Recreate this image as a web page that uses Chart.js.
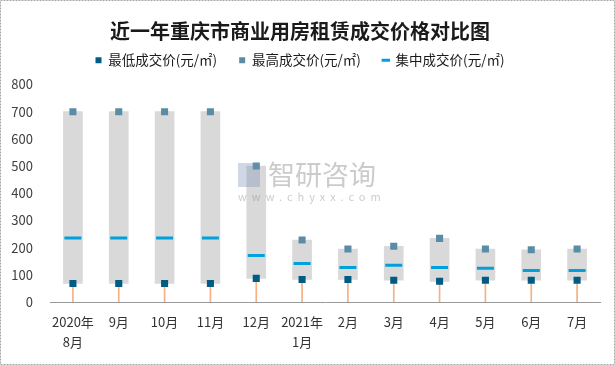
<!DOCTYPE html>
<html>
<head>
<meta charset="utf-8">
<script src="https://cdn.jsdelivr.net/npm/chart.js@4/dist/chart.umd.min.js"></script>
<style>
    body { margin: 0; background: #fff; }
    #wrap { width: 615px; height: 365px; }
</style>
</head>
<body>
<div id="wrap"><canvas id="myChart" width="615" height="365"></canvas></div>
<script>
// chart data
const months = [['2020年', '8月'], '9月', '10月', '11月', '12月', ['2021年', '1月'], '2月', '3月', '4月', '5月', '6月', '7月']
const lowPrice = [68, 68, 68, 68, 87, 83, 83, 80, 76, 80, 80, 80]
const highPrice = [700, 700, 700, 700, 500, 228, 195, 205, 234, 195, 192, 195]
const midPrice = [235, 235, 235, 235, 171, 142, 127, 135, 127, 124, 116, 116]
const yTicks = [0, 100, 200, 300, 400, 500, 600, 700, 800]

const cjk = '"Noto Sans CJK SC", "Noto Sans", sans-serif'

// frame + watermark
const framePlugin = {
    id: 'frame',
    beforeDraw: (chart) => {
        const { ctx } = chart
        ctx.save()
        ctx.fillStyle = '#ffffff'
        ctx.fillRect(0, 0, chart.width, chart.height)
        ctx.restore()
    },
    afterDatasetsDraw: (chart) => {
        const { ctx } = chart
        ctx.save()
        ctx.fillStyle = 'rgba(140, 140, 140, 0.45)'
        ctx.font = '27px ' + cjk
        ctx.textBaseline = 'middle'
        ctx.fillText('智研咨询', 268, 175)
        ctx.font = '11px ' + cjk
        ctx.letterSpacing = '5px'
        ctx.fillText('www.chyxx.com', 238, 197)
        ctx.fillStyle = 'rgba(120, 140, 180, 0.35)'
        ctx.fillRect(238, 163, 22, 24)
        ctx.restore()
    },
    afterDraw: (chart) => {
        const { ctx } = chart
        ctx.save()
        ctx.strokeStyle = '#a6a6a6'
        ctx.setLineDash([2, 1])
        ctx.lineWidth = 1
        ctx.strokeRect(0.5, 0.5, chart.width - 1, chart.height - 1)
        ctx.restore()
    }
}

const ctx = document.getElementById('myChart')
new Chart(ctx, {
    type: 'bar',
    data: {
        labels: months,
        datasets: [{
            type: 'line',
            label: '最低成交价(元/㎡)',
            data: lowPrice,
            showLine: false,
            pointStyle: 'rect',
            pointRadius: 5,
            pointBackgroundColor: '#005C83',
            pointBorderColor: '#005C83',
            pointBorderWidth: 0,
            backgroundColor: '#005C83',
            borderColor: '#005C83'
        },
        {
            type: 'line',
            label: '最高成交价(元/㎡)',
            data: highPrice,
            showLine: false,
            pointStyle: 'rect',
            pointRadius: 5,
            pointBackgroundColor: '#5A8CA6',
            pointBorderColor: '#5A8CA6',
            pointBorderWidth: 0,
            backgroundColor: '#5A8CA6',
            borderColor: '#5A8CA6'
        },
        {
            type: 'line',
            label: '集中成交价(元/㎡)',
            data: midPrice,
            showLine: false,
            pointStyle: 'line',
            pointRadius: 8.5,
            pointBorderWidth: 3,
            pointBorderColor: '#00A0DC',
            backgroundColor: '#00A0DC',
            borderColor: '#00A0DC',
            borderWidth: 3
        },
        {
            label: 'range',
            data: lowPrice.map((v, i) => [v, highPrice[i]]),
            backgroundColor: '#D9D9D9',
            barThickness: 19,
            grouped: false
        },
        {
            label: 'drop',
            data: lowPrice.map(v => [0, v]),
            backgroundColor: '#F4B183',
            barThickness: 1,
            grouped: false
        }]
    },
    options: {
        responsive: false,
        animation: false,
        layout: { padding: { left: 0, right: 15, bottom: 0 } },
        plugins: {
            title: {
                display: true,
                text: '近一年重庆市商业用房租赁成交价格对比图',
                color: '#1a1a1a',
                font: { family: cjk, size: 20, weight: 'bold', lineHeight: 0.05 },
                padding: { top: 30.5, bottom: 0 }
            },
            // empty spacer under the legend
            subtitle: {
                display: true,
                text: '',
                weight: 500,
                font: { size: 1, lineHeight: 1 },
                padding: { top: 6.5, bottom: 0 }
            },
            legend: {
                labels: {
                    usePointStyle: true,
                    boxWidth: 6,
                    boxHeight: 6,
                    padding: 22,
                    color: '#1a1a1a',
                    font: { family: cjk, size: 13.5 },
                    filter: (item) => item.datasetIndex < 3
                }
            },
            tooltip: { enabled: false }
        },
        scales: {
            x: {
                grid: { display: false },
                border: { color: '#9a9a9a', dash: [2, 1] },
                ticks: { color: '#333333', font: { family: cjk, size: 13, lineHeight: 1.54 }, maxRotation: 0, padding: 2 },
                afterFit: (scale) => { scale.height = 63 }
            },
            y: {
                min: 0,
                max: 800,
                afterBuildTicks: (axis) => { axis.ticks = yTicks.map(v => ({ value: v })) },
                grid: { display: false },
                border: { display: false },
                ticks: { color: '#404040', font: { family: cjk, size: 13, lineHeight: 1 }, padding: 9 },
                afterFit: (scale) => { scale.width = 50 }
            }
        }
    },
    plugins: [framePlugin]
})
</script>
</body>
</html>
